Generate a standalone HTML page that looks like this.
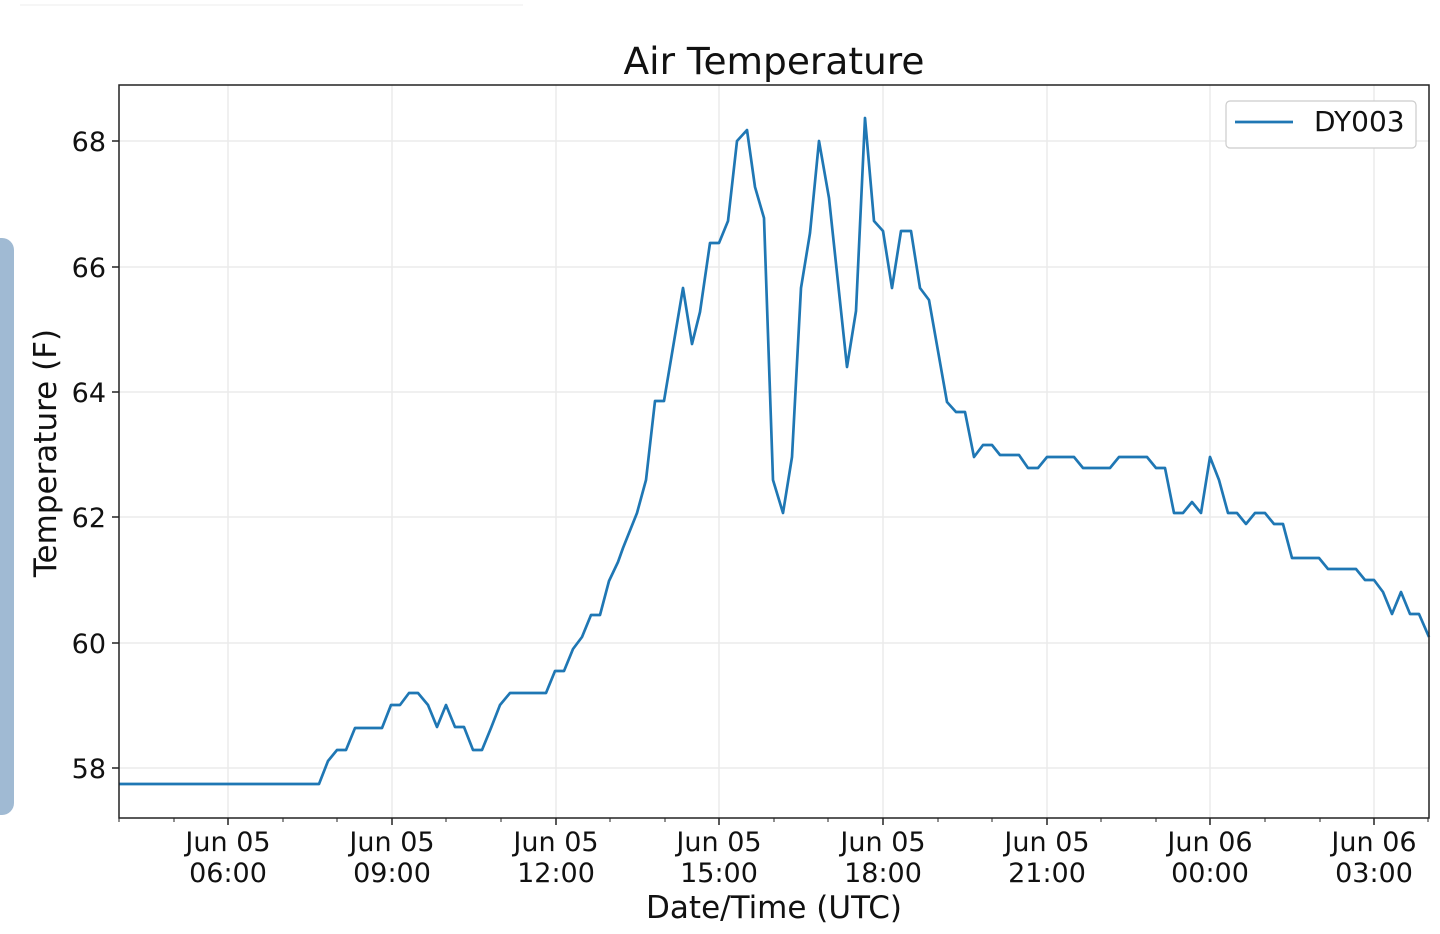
<!DOCTYPE html>
<html><head><style>body{margin:0;background:#fff;width:1440px;height:934px;overflow:hidden}</style></head>
<body>
<svg width="1440" height="934" style="position:absolute;left:0;top:0" font-family="DejaVu Sans, Liberation Sans, sans-serif">
<line x1="20" y1="5" x2="523" y2="5" stroke="#eee" stroke-width="1"/>
<rect x="-20" y="238" width="34" height="577" rx="12" fill="#a0bad3"/>
<g stroke="#ebebeb" stroke-width="1.5">
<line x1="228" y1="85" x2="228" y2="818"/><line x1="392" y1="85" x2="392" y2="818"/><line x1="556" y1="85" x2="556" y2="818"/><line x1="719" y1="85" x2="719" y2="818"/><line x1="883" y1="85" x2="883" y2="818"/><line x1="1047" y1="85" x2="1047" y2="818"/><line x1="1210" y1="85" x2="1210" y2="818"/><line x1="1374" y1="85" x2="1374" y2="818"/>
<line x1="119" y1="141" x2="1429" y2="141"/><line x1="119" y1="267" x2="1429" y2="267"/><line x1="119" y1="392" x2="1429" y2="392"/><line x1="119" y1="517" x2="1429" y2="517"/><line x1="119" y1="643" x2="1429" y2="643"/><line x1="119" y1="768" x2="1429" y2="768"/>
</g>
<polyline fill="none" stroke="#1f77b4" stroke-width="2.7" stroke-linejoin="round" points="119,784 319,784 328,761 337,750 346,750 355,728 382,728 391,705 400,705 409,693 418,693 428,705 437,727 446,705 455,727 464,727 473,750 482,750 491,728 500,705 510,693 546,693 555,671 564,671 573,649 582,637 591,615 600,615 609,581 618,562 623,548 637,513 646,480 655,401 664,401 683,288 692,344 700,312 710,243 719,243 728,221 737,141 747,130 755,187 764,218 773,480 783,513 792,457 801,288 810,233 819,141 829,198 847,367 856,311 865,118 874,221 883,231 892,288 901,231 911,231 920,288 929,300 947,402 956,412 965,412 974,457 983,445 992,445 1000,455 1019,455 1028,468 1038,468 1047,457 1074,457 1083,468 1110,468 1119,457 1147,457 1156,468 1165,468 1174,513 1183,513 1192,502 1201,513 1210,457 1219,480 1228,513 1237,513 1246,524 1255,513 1265,513 1274,524 1283,524 1292,558 1319,558 1328,569 1356,569 1365,580 1374,580 1383,592 1392,614 1401,592 1410,614 1419,614 1429,637"/>
<rect x="119" y="85" width="1310" height="733" fill="none" stroke="#222" stroke-width="1.5"/>
<g stroke="#222" stroke-width="1.5">
<line x1="112" y1="141" x2="119" y2="141"/><line x1="112" y1="267" x2="119" y2="267"/><line x1="112" y1="392" x2="119" y2="392"/><line x1="112" y1="517" x2="119" y2="517"/><line x1="112" y1="643" x2="119" y2="643"/><line x1="112" y1="768" x2="119" y2="768"/>
<line x1="228" y1="818" x2="228" y2="825"/><line x1="392" y1="818" x2="392" y2="825"/><line x1="556" y1="818" x2="556" y2="825"/><line x1="719" y1="818" x2="719" y2="825"/><line x1="883" y1="818" x2="883" y2="825"/><line x1="1047" y1="818" x2="1047" y2="825"/><line x1="1210" y1="818" x2="1210" y2="825"/><line x1="1374" y1="818" x2="1374" y2="825"/>
</g>
<g stroke="#222" stroke-width="1">
<line x1="119" y1="818" x2="119" y2="822"/><line x1="174" y1="818" x2="174" y2="822"/><line x1="283" y1="818" x2="283" y2="822"/><line x1="337" y1="818" x2="337" y2="822"/><line x1="446" y1="818" x2="446" y2="822"/><line x1="501" y1="818" x2="501" y2="822"/><line x1="610" y1="818" x2="610" y2="822"/><line x1="665" y1="818" x2="665" y2="822"/><line x1="774" y1="818" x2="774" y2="822"/><line x1="828" y1="818" x2="828" y2="822"/><line x1="938" y1="818" x2="938" y2="822"/><line x1="992" y1="818" x2="992" y2="822"/><line x1="1101" y1="818" x2="1101" y2="822"/><line x1="1156" y1="818" x2="1156" y2="822"/><line x1="1265" y1="818" x2="1265" y2="822"/><line x1="1320" y1="818" x2="1320" y2="822"/><line x1="1428" y1="818" x2="1428" y2="822"/>
</g>
<g font-size="27" fill="#111" text-anchor="end">
<text x="106" y="151">68</text><text x="106" y="277">66</text><text x="106" y="402">64</text><text x="106" y="527">62</text><text x="106" y="653">60</text><text x="106" y="778">58</text>
</g>
<g font-size="27" fill="#111" text-anchor="middle">
<text x="228" y="851">Jun 05</text><text x="228" y="882">06:00</text>
<text x="392" y="851">Jun 05</text><text x="392" y="882">09:00</text>
<text x="556" y="851">Jun 05</text><text x="556" y="882">12:00</text>
<text x="719" y="851">Jun 05</text><text x="719" y="882">15:00</text>
<text x="883" y="851">Jun 05</text><text x="883" y="882">18:00</text>
<text x="1047" y="851">Jun 05</text><text x="1047" y="882">21:00</text>
<text x="1210" y="851">Jun 06</text><text x="1210" y="882">00:00</text>
<text x="1374" y="851">Jun 06</text><text x="1374" y="882">03:00</text>
<text x="774" y="918" font-size="31">Date/Time (UTC)</text>
<text x="774" y="74" font-size="37.5">Air Temperature</text>
</g>
<text transform="translate(56,453) rotate(-90)" font-size="31" fill="#111" text-anchor="middle">Temperature (F)</text>
<rect x="1226" y="101" width="190" height="47" rx="4" fill="#fff" stroke="#ccc" stroke-width="1.2"/>
<line x1="1235" y1="122" x2="1293" y2="122" stroke="#1f77b4" stroke-width="2.7"/>
<text x="1314" y="131" font-size="28" fill="#111">DY003</text>
</svg>
</body></html>
